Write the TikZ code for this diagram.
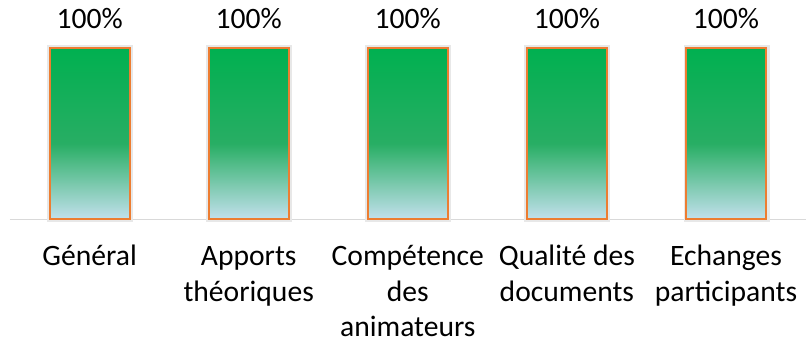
\documentclass[tikz,border=0pt]{standalone}
\usepackage{fontspec}
\setmainfont{Carlito}
\definecolor{bargreen}{RGB}{0,176,80}
\definecolor{barmid}{RGB}{40,174,100}
\definecolor{barblue}{RGB}{194,224,236}
\definecolor{barorange}{RGB}{237,125,49}
\definecolor{axisgray}{RGB}{217,217,217}
\definecolor{shadowgray}{RGB}{232,232,232}
\pgfdeclareverticalshading{barshade}{100bp}{color(0bp)=(barblue); color(25bp)=(barblue); color(47bp)=(barmid); color(75bp)=(bargreen); color(100bp)=(bargreen)}
\begin{document}
\begin{tikzpicture}[x=0.5pt,y=-0.5pt,
  barbox/.style={draw=barorange, line width=1pt, shading=barshade},
  barshadow/.style={draw=shadowgray, line width=1.5pt},
  axisline/.style={draw=axisgray, line width=0.75pt},
  val/.style={font=\fontsize{14.8}{17.75}\selectfont, anchor=base, inner sep=0pt},
  cat/.style={font=\fontsize{14.8}{17.75}\selectfont, anchor=base, inner sep=0pt, align=center}]
\useasboundingbox (0,0) rectangle (811,343);
\coordinate (axl) at (10,219.5);
\coordinate (axr) at (806,219.5);
\draw[axisline] (axl) -- (axr);
\foreach \i/\c in {1/89.6,2/248.7,3/407.8,4/566.9,5/726}{
  \draw[barshadow] (\c-41,46.5) rectangle (\c+42,220.5);
  \shade[barbox] (\c-40,47.5) rectangle (\c+40,219);
  \node[val] (v\i) at (\c,28) {100\%};
}
\node[cat] (c1) at (89.6,265.7) {Général};
\node[cat] (c2) at (248.7,301.2) {Apports\\théoriques};
\node[cat] (c3) at (407.8,336.7) {Compétence\\des\\animateurs};
\node[cat] (c4) at (566.9,301.2) {Qualité des\\documents};
\node[cat] (c5) at (726,301.2) {Echanges\\participants};
\end{tikzpicture}
\end{document}
